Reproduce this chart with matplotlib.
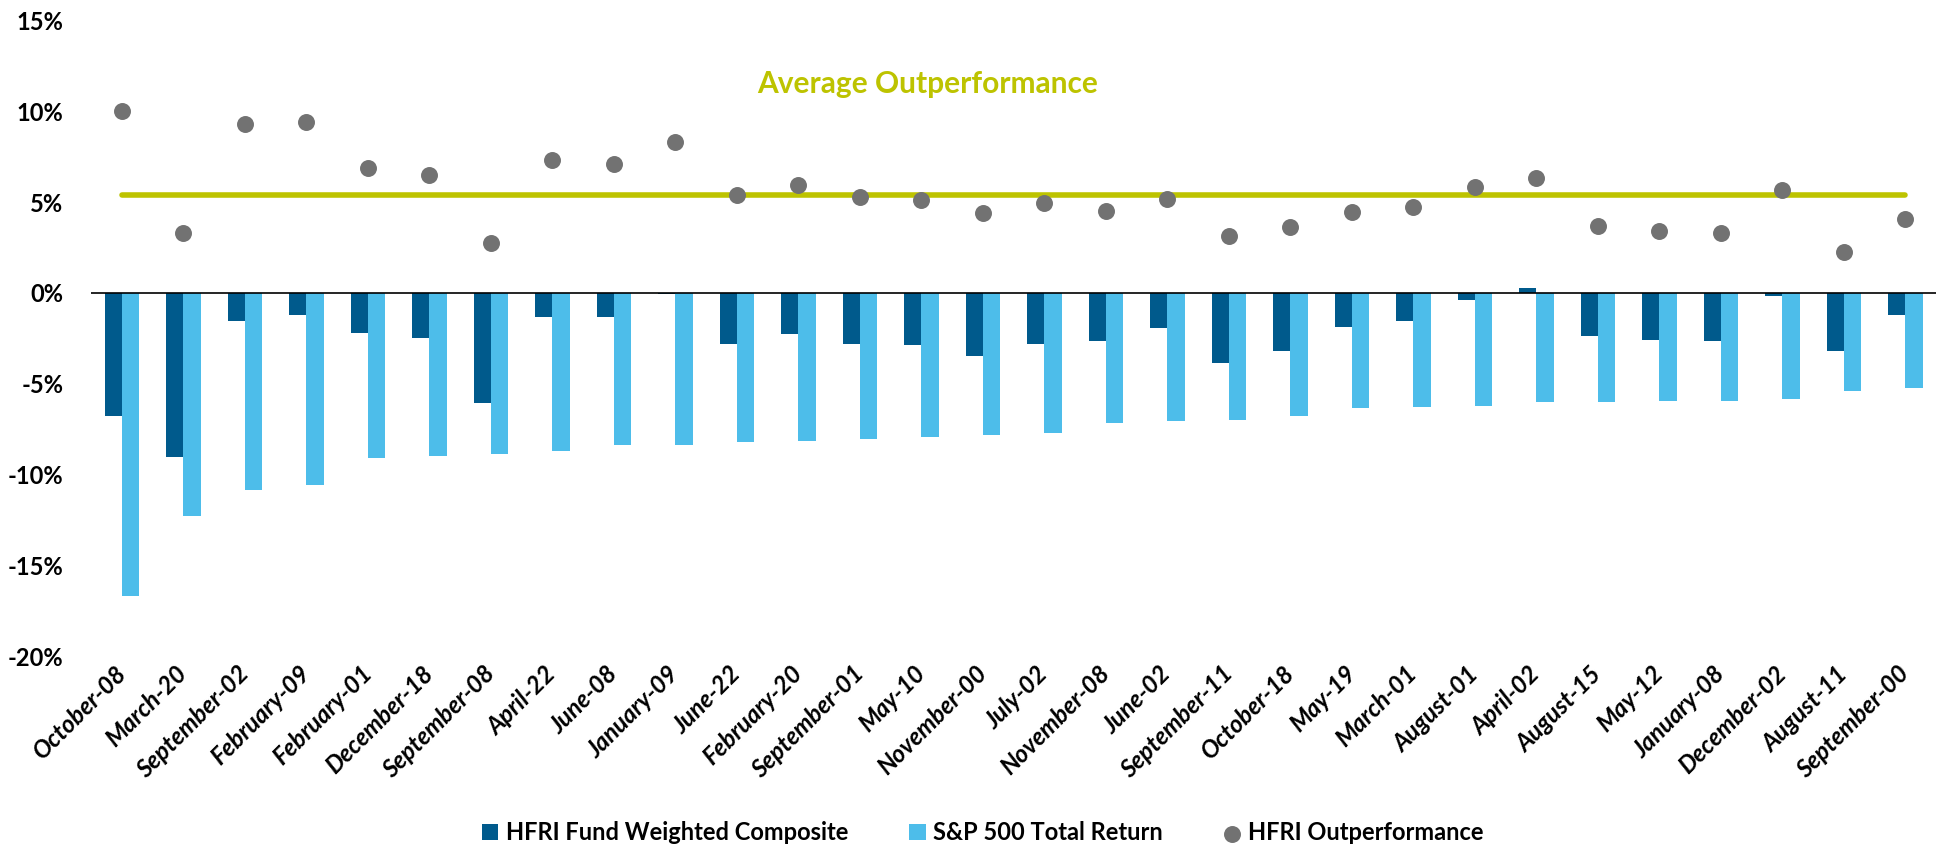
import matplotlib.pyplot as plt
import numpy as np

plt.rcParams['font.family'] = ['Lato', 'DejaVu Sans']

months = ["October-08", "March-20", "September-02", "February-09", "February-01",
          "December-18", "September-08", "April-22", "June-08", "January-09",
          "June-22", "February-20", "September-01", "May-10", "November-00",
          "July-02", "November-08", "June-02", "September-11", "October-18",
          "May-19", "March-01", "August-01", "April-02", "August-15",
          "May-12", "January-08", "December-02", "August-11", "September-00"]

hfri = [-6.80, -9.04, -1.53, -1.20, -2.19, -2.50, -6.08, -1.35, -1.30, -0.07,
        -2.83, -2.24, -2.81, -2.88, -3.45, -2.83, -2.64, -1.92, -3.87, -3.18,
        -1.87, -1.55, -0.37, 0.27, -2.36, -2.59, -2.66, -0.17, -3.18, -1.23]

spx = [-16.70, -12.30, -10.84, -10.60, -9.09, -8.99, -8.89, -8.69, -8.40, -8.40,
       -8.20, -8.18, -8.03, -7.96, -7.83, -7.73, -7.14, -7.07, -7.00, -6.80,
       -6.33, -6.30, -6.20, -6.03, -5.99, -5.96, -5.96, -5.84, -5.39, -5.25]

outperf = [10.00, 3.30, 9.31, 9.43, 6.90, 6.50, 2.78, 7.34, 7.09, 8.33,
           5.42, 5.96, 5.27, 5.10, 4.41, 4.93, 4.51, 5.20, 3.15, 3.65,
           4.46, 4.75, 5.86, 6.35, 3.67, 3.42, 3.33, 5.69, 2.24, 4.06]

avg_outperf = 5.42

dark = '#005A8C'
light = '#4DBDEA'
grey = '#727272'
green = '#BDC300'

x = np.arange(len(months))
w = 0.28

fig = plt.figure(figsize=(19.38, 8.61), dpi=100)
ax = fig.add_axes([0.047, 0.238, 0.952, 0.738])

b1 = ax.bar(x - w / 2, hfri, w, color=dark, label="HFRI Fund Weighted Composite")
b2 = ax.bar(x + w / 2, spx, w, color=light, label="S&P 500 Total Return")
sc = ax.scatter(x, outperf, s=125, color=grey, zorder=4, label="HFRI Outperformance")
ax.plot([x[0], x[-1]], [avg_outperf, avg_outperf], color=green, lw=4,
        solid_capstyle='round', zorder=3)
ax.text(13.1, 11.5, "Average Outperformance", color=green, fontsize=21.5,
        fontweight='bold', ha='center', va='center')
ax.axhline(0, color='black', lw=1.2, zorder=2)

ax.set_xlim(-0.5, len(months) - 0.5)
ax.set_ylim(-20, 15)
ax.set_yticks(range(-20, 16, 5))
ax.set_yticklabels([f"{v}%" for v in range(-20, 16, 5)], fontsize=17, fontweight='bold')
ax.set_xticks(x)
ax.set_xticklabels(months, rotation=45, ha='right', va='center', rotation_mode='anchor',
                   fontsize=17.5, fontweight='bold', fontstyle='italic')
ax.tick_params(axis='both', length=0)
ax.tick_params(axis='y', pad=20)
ax.tick_params(axis='x', pad=10)
for s in ax.spines.values():
    s.set_visible(False)

fig.legend([b1, b2, sc], [b1.get_label(), b2.get_label(), sc.get_label()],
           loc='lower center', bbox_to_anchor=(0.507, -0.005), ncol=3, frameon=False,
           prop={'weight': 'bold', 'size': 17}, handlelength=0.7, handleheight=0.7,
           handletextpad=0.3, columnspacing=2.6)

fig.savefig("out.png", dpi=100)
